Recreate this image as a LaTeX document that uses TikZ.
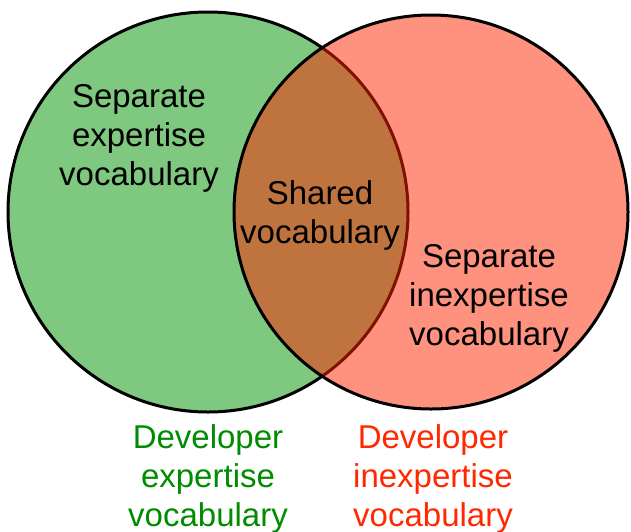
\documentclass[tikz,border=0pt]{standalone}
\usepackage{fontspec}
\setmainfont{Liberation Sans}
\begin{document}
\definecolor{setgreen}{RGB}{0,145,0}
\definecolor{setred}{RGB}{255,35,0}
\definecolor{labgreen}{RGB}{0,140,0}
\definecolor{labred}{RGB}{255,40,0}
\begin{tikzpicture}[x=1pt,y=-1pt,
  setcircle/.style={circle, draw=black, line width=3pt, inner sep=0pt,
    fill opacity=0.5, draw opacity=1},
  lbl/.style={align=center, font=\fontsize{33}{39}\selectfont, inner sep=0pt}]
  \useasboundingbox (0,0) rectangle (631,531);
  % the two vocabularies as overlapping sets
  \node[setcircle, fill=setgreen, minimum size=400pt] (expert) at (208,212) {};
  \node[setcircle, fill=setred, minimum size=394pt] (inexpert) at (431,212) {};
  % region texts
  \node[lbl] (sepexp) at (139,138) {Separate\\expertise\\vocabulary};
  \node[lbl] (shared) at (320,215) {Shared\\vocabulary};
  \node[lbl] (sepinexp) at (489,298) {Separate\\inexpertise\\vocabulary};
  % set captions
  \node[lbl, text=labgreen] (capexp) at (208,479) {Developer\\expertise\\vocabulary};
  \node[lbl, text=labred] (capinexp) at (433,479) {Developer\\inexpertise\\vocabulary};
\end{tikzpicture}
\end{document}
